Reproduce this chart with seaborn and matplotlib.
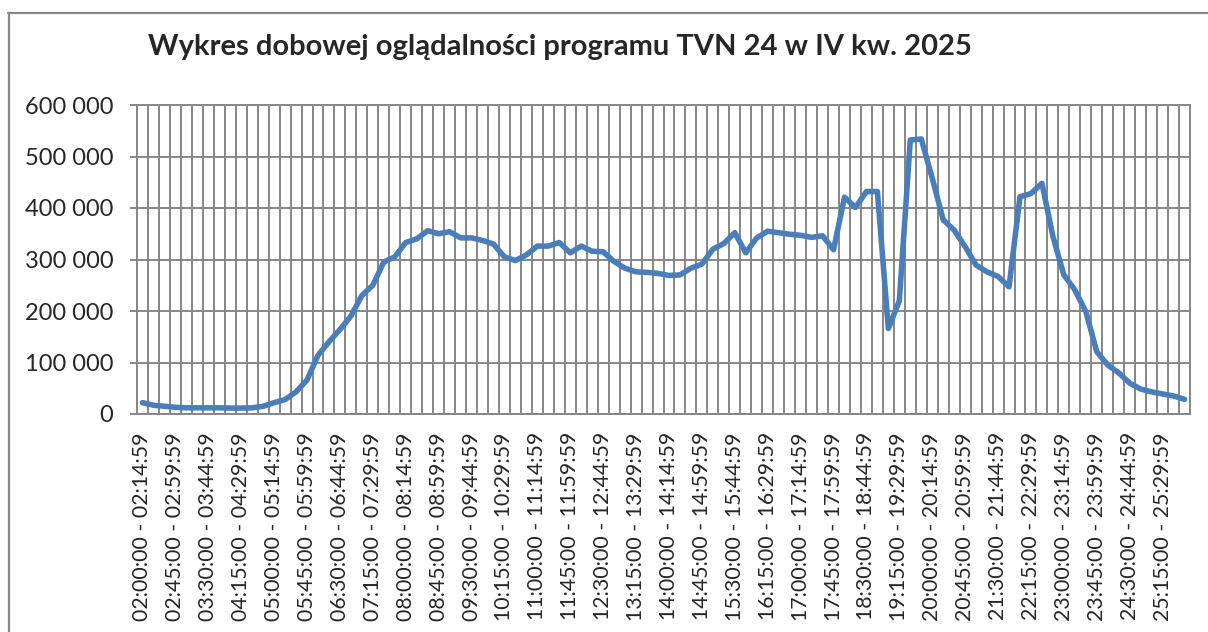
import matplotlib
matplotlib.use('Agg')
import matplotlib.pyplot as plt
from matplotlib.lines import Line2D
from matplotlib.ticker import FixedLocator, FuncFormatter
import seaborn as sns
import pandas as pd
import numpy as np

# 15-minute slots from 02:00 to 25:59 (96 slots)
slot_starts = [f"{2 + m // 60:02d}:{m % 60:02d}:00" for m in range(0, 96 * 15, 15)]
slot_ends = [f"{2 + (m + 14) // 60:02d}:{(m + 14) % 60:02d}:59" for m in range(0, 96 * 15, 15)]
slot_labels = [f"{a} - {b}" for a, b in zip(slot_starts, slot_ends)]

# audience
viewers = [
    22000, 17000, 15000, 13000, 12000, 12000, 12000, 12000, 11500, 11500,
    12000, 15000, 22000, 28000, 43000, 66000, 114000, 140000, 164000, 190000,
    230000, 250000, 295000, 305000, 333000, 340000, 356000, 350000, 354000, 342000,
    342000, 337000, 330000, 305000, 298000, 309000, 326000, 326000, 333000, 313000,
    326000, 316000, 315000, 296000, 283000, 276000, 275000, 273000, 269000, 270000,
    283000, 291000, 320000, 331000, 352000, 313000, 342000, 355000, 352000, 349000,
    347000, 343000, 346000, 319000, 421000, 401000, 432000, 432000, 166000, 220000,
    532000, 534000, 458000, 377000, 357000, 325000, 289000, 276000, 267000, 247000,
    422000, 428000, 448000, 345000, 270000, 241000, 199000, 121000, 95000, 80000,
    60000, 48500, 43000, 39000, 35000, 28500,
]
y_ticks = [0, 100000, 200000, 300000, 400000, 500000, 600000]

df = pd.DataFrame({'slot': np.arange(len(viewers)), 'viewers': viewers})

sns.set_style('white')
plt.rcParams['font.family'] = ['Lato', 'DejaVu Sans']

grid_col = '#868686'
fig = plt.figure(figsize=(12.08, 6.32), dpi=100)
ax = fig.add_axes([137 / 1208, 1 - 414 / 632, (1190 - 137) / 1208, (414 - 105) / 632])

sns.lineplot(data=df, x='slot', y='viewers', ax=ax, color='#4A7EBB', linewidth=4,
             solid_joinstyle='round', solid_capstyle='round', zorder=5)

n = len(viewers)
ax.set_xlim(-0.5, n - 0.5)
ax.set_ylim(0, 600000)

# x: labels every third slot, gridlines on slot boundaries
ax.xaxis.set_major_locator(FixedLocator(list(range(0, n, 3))))
ax.set_xticklabels([slot_labels[i] for i in range(0, n, 3)], rotation=90, fontsize=15.3)
ax.xaxis.set_minor_locator(FixedLocator(list(np.arange(-0.5, n, 1.0))))
ax.tick_params(axis='x', which='major', length=0, pad=13)
ax.tick_params(axis='x', which='minor', length=5, width=1.4, color=grid_col, direction='out')
ax.grid(True, which='minor', axis='x', color=grid_col, linewidth=1.4)

ax.set_yticks(y_ticks)
ax.yaxis.set_major_formatter(FuncFormatter(lambda v, p: f"{int(v):,}".replace(',', ' ')))
ax.tick_params(axis='y', length=5, width=1.4, color=grid_col, direction='out', pad=12,
               labelsize=17, left=True)
ax.grid(True, which='major', axis='y', color=grid_col, linewidth=1.4)
ax.set_axisbelow(True)

for s in ax.spines.values():
    s.set_color(grid_col)
    s.set_linewidth(1.4)
    s.set_visible(True)

ax.set_xlabel('')
ax.set_ylabel('')

fig.text(560 / 1208, 1 - 47 / 632, 'Wykres dobowej oglądalności programu TVN 24 w IV kw. 2025',
         ha='center', va='center', fontsize=21, fontweight='bold')

# chart area frame (only left and top edges are visible)
fig.add_artist(Line2D([8.5 / 1208, 8.5 / 1208], [0, 1 - 13 / 632], transform=fig.transFigure,
                      color=grid_col, linewidth=1.6))
fig.add_artist(Line2D([8 / 1208, 1], [1 - 13 / 632, 1 - 13 / 632], transform=fig.transFigure,
                      color=grid_col, linewidth=1.6))

fig.savefig('out.png', dpi=100)
